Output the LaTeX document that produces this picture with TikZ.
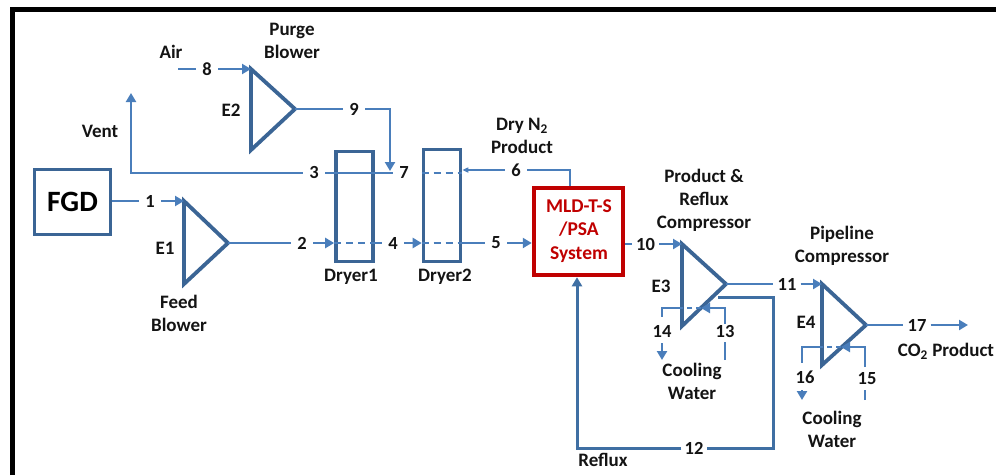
\documentclass[tikz,border=0pt]{standalone}
\usepackage{fontspec}
\setmainfont{Carlito}
\usetikzlibrary{arrows.meta}
\definecolor{dkblue}{HTML}{3B6595}
\definecolor{ltblue}{HTML}{4A7EBB}
\definecolor{rflx}{HTML}{3F6FA3}
\definecolor{sysred}{HTML}{C00000}
\tikzset{
  unitbox/.style={draw=dkblue,line width=3.6pt,inner sep=0pt},
  vessel/.style={draw=dkblue,line width=3.8pt,fill=none,line join=miter},
  txt/.style={font=\fontsize{19}{23}\selectfont\bfseries,text=black!92,inner sep=0pt,align=center},
  num/.style={txt,font=\fontsize{18.5}{18.5}\selectfont\bfseries,minimum width=22pt,minimum height=14pt},
  numw/.style={num,minimum width=27pt},
  flow/.style={draw=ltblue,line width=2.8pt},
  flowthin/.style={draw=ltblue,line width=1.5pt},
  tip/.style={-{Triangle[length=9pt,width=10pt]}},
  tipsm/.style={-{Triangle[length=6pt,width=5pt]}},
  through/.style={draw=ltblue,line width=2.8pt,dash pattern=on 7pt off 5pt},
  refl/.style={draw=rflx,line width=3pt}
}
\begin{document}
\begin{tikzpicture}[x=1pt,y=-1pt]
\useasboundingbox (0,0) rectangle (996,475);
% frame
\draw[black,line width=5pt] (12,475) -- (12,9.5) -- (996,9.5);
% coordinates of the machines
\coordinate (e1a) at (184,201); \coordinate (e1b) at (228,243); \coordinate (e1c) at (184,284);
\coordinate (e2a) at (251,69);  \coordinate (e2b) at (295,109); \coordinate (e2c) at (251,150);
\coordinate (e3a) at (682,244); \coordinate (e3b) at (726,284); \coordinate (e3c) at (682,326);
\coordinate (e4a) at (822,284); \coordinate (e4b) at (866,325); \coordinate (e4c) at (822,365);
% boxes
\node[unitbox,minimum width=76pt,minimum height=65pt] (fgd) at (72.5,202)
  {\fontsize{29.5}{29.5}\selectfont\bfseries FGD};
\node[draw=dkblue,line width=3.6pt,minimum width=37pt,minimum height=110pt,inner sep=0pt] (d1) at (354.5,206.5) {};
\node[draw=dkblue,line width=3.6pt,minimum width=37pt,minimum height=112pt,inner sep=0pt] (d2) at (442,205.5) {};
\node[draw=sysred,line width=4.5pt,minimum width=89pt,minimum height=87pt,inner sep=0pt] (sys) at (578.5,231.5) {};
\path[vessel] (e1a) -- (e1b) -- (e1c) -- cycle;
\path[vessel] (e2a) -- (e2b) -- (e2c) -- cycle;
\path[vessel] (e3a) -- (e3b) -- (e3c) -- cycle;
\path[vessel] (e4a) -- (e4b) -- (e4c) -- cycle;
% stream numbers
\node[num] (n1) at (150,201) {\raisebox{-3pt}{1}};
\node[num] (n2) at (302,243) {2};
\node[num] (n3) at (314,173) {\raisebox{1pt}{3}};
\node[num] (n4) at (393,243) {\raisebox{-1pt}{4}};
\node[num] (n5) at (496,243) {\raisebox{-1pt}{5}};
\node[num] (n6) at (516,170) {6};
\node[num] (n7) at (404,173) {\raisebox{1pt}{7}};
\node[num] (n8) at (207,69) {8};
\node[num] (n9) at (354,109) {\raisebox{-3pt}{9}};
\node[numw] (n10) at (645.5,244) {10};
\node[numw] (n11) at (787,284) {\raisebox{-1pt}{11}};
\node[num,minimum width=25pt] (n12) at (694,448) {\raisebox{-1pt}{12}};
\node[num] (n13) at (725,331) {13};
\node[num] (n14) at (662,331) {14};
\node[num] (n15) at (867,379) {15};
\node[num] (n16) at (805,377) {16};
\node[numw] (n17) at (917,325) {17};
% free ends
\coordinate (air) at (178,69);
\coordinate (vent) at (131,93);
\coordinate (ventc) at (131,173);
\coordinate (n7r) at (393,173);
\coordinate (j9) at (390,109);
\coordinate (t7) at (390,171);
\coordinate (co2) at (968,325);
% main connectors
\draw[flow] (fgd.east|-e1a) -- (n1.west|-e1a);
\draw[flow,tip] (n1.east|-e1a) -- (e1a);
\draw[flow] (e1b) -- (n2.west|-e1b);
\draw[flow,tip] (n2.east|-e1b) -- (d1.west|-e1b);
\draw[through] (d1.west|-e1b) -- (d1.east|-e1b);
\draw[flow] (d1.east|-e1b) -- (n4.west|-e1b);
\draw[flow,tip] (n4.east|-e1b) -- (d2.west|-e1b);
\draw[through] (d2.west|-e1b) -- (d2.east|-e1b);
\draw[flow] (d2.east|-e1b) -- (n5.west|-e1b);
\draw[flow,tip] (n5.east|-e1b) -- (sys.west|-e1b);
\draw[flow] (sys.east|-e3a) -- (n10.west|-e3a);
\draw[flow,tip] (n10.east|-e3a) -- (e3a);
\draw[flow] (e3b) -- (n11.west|-e3b);
\draw[flow,tip] (n11.east|-e3b) -- (e4a);
\draw[flow] (e4b) -- (n17.west|-e4b);
\draw[flow,tip] (n17.east|-e4b) -- (co2);
% air and purge
\draw[flow] (air) -- (n8.west);
\draw[flow,tip] (n8.east) -- (e2a);
\draw[flow] (e2b) -- (n9.west|-e2b);
\draw[flow,tip] (n9.east|-e2b) -- (j9) -- (t7);
% vent
\draw[flow,tip] (n3.west) -- (ventc) -- (vent);
\draw[flow] (n3.east) -- (n7r);
\draw[through] (d2.west|-n7) -- (d2.east|-n7);
% N2 product
\coordinate (n6c) at (570,170);
\draw[flowthin] (sys.north-|n6c) -- (n6c) -- (n6.east);
\draw[flowthin,tipsm] (n6.west) -- (d2.east|-n6);
% reflux
\coordinate (r0) at (718,297); \coordinate (r1) at (773,297); \coordinate (r2) at (773,448);
\coordinate (r3) at (577,448);
\draw[refl] (r0) -- (r1) -- (r2) -- (n12.east);
\draw[refl,tip] (n12.west) -- (r3) -- (sys.south-|r3);
% cooling water E3
\coordinate (c13a) at (725,360); \coordinate (c13b) at (725,342); \coordinate (c13c) at (725,324);
\coordinate (c13d) at (725,308); \coordinate (c13t) at (701,308); \coordinate (c14a) at (682,308);
\coordinate (c14b) at (662,308); \coordinate (c14c) at (662,317); \coordinate (c14d) at (662,343);
\coordinate (c14e) at (662,360);
\draw[flow] (c13a) -- (c13b);
\draw[flow,tip] (c13c) -- (c13d) -- (c13t);
\draw[through,dash pattern=on 5pt off 4pt] (c13t) -- (c14a);
\draw[flow] (c14a) -- (c14b) -- (c14c);
\draw[flow,tip] (c14d) -- (c14e);
% cooling water E4
\coordinate (c15a) at (865,400); \coordinate (c15b) at (865,390); \coordinate (c15c) at (865,367);
\coordinate (c15d) at (865,347); \coordinate (c15t) at (841,347); \coordinate (c16a) at (822,347);
\coordinate (c16b) at (802,347); \coordinate (c16c) at (802,363); \coordinate (c16d) at (802,390);
\coordinate (c16e) at (802,400);
\draw[flow] (c15a) -- (c15b);
\draw[flow,tip] (c15c) -- (c15d) -- (c15t);
\draw[through,dash pattern=on 5pt off 4pt] (c15t) -- (c16a);
\draw[flow] (c16a) -- (c16b) -- (c16c);
\draw[flow,tip] (c16d) -- (c16e);
% texts
\node[txt,text=sysred,font=\fontsize{19.5}{23.5}\selectfont\bfseries] (tsys) at (579,231) {MLD-T-S\\/PSA\\System};
\node[txt] (tair) at (171,52) {Air};
\node[txt] (tpb) at (292,41) {Purge\\Blower};
\node[txt] (te2) at (231,110) {E2};
\node[txt] (tvent) at (100,131) {Vent};
\node[txt] (te1) at (165,248) {E1};
\node[txt] (tfb) at (179,313) {Feed\\Blower};
\node[txt] (td1) at (351,277) {Dryer1};
\node[txt] (td2) at (445,277) {Dryer2};
\node[txt] (tdn) at (522,136) {Dry N\textsubscript{2}\\Product};
\node[txt] (tprc) at (704,200) {Product \&\\Reflux\\Compressor};
\node[txt] (tpc) at (842,246) {Pipeline\\Compressor};
\node[txt] (te3) at (661,286) {E3};
\node[txt] (te4) at (806,322) {E4};
\node[txt] (tcw1) at (692,381) {Cooling\\Water};
\node[txt] (tcw2) at (832,429) {Cooling\\Water};
\node[txt] (tco2) at (946,351) {CO\textsubscript{2} Product};
\node[txt] (trefl) at (603,460) {Reflux};
\end{tikzpicture}
\end{document}
